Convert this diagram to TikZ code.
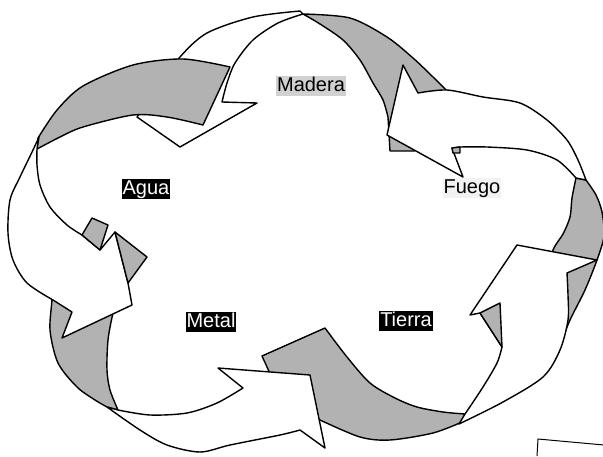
\documentclass[tikz,border=0pt]{standalone}
\usepackage{fontspec}
\setmainfont{Liberation Sans}
\usepackage{tikz}
\newcommand{\elemfont}{\fontsize{20}{24}\selectfont}

\begin{document}
\begin{tikzpicture}[
  x=1pt, y=-1pt,
  back/.style={draw, fill=black!30, line width=1.4pt, line join=round},
  front/.style={draw, fill=white, line width=1.4pt, line join=round},
  tag/.style={font=\elemfont, inner xsep=1pt, inner ysep=0.5pt, text height=15pt, text depth=3.5pt},
  darktag/.style={tag, fill=black, text=white}
]
\useasboundingbox (0,0) rectangle (603,456);
\clip (0,0) rectangle (603,456);

\path[back] plot[smooth] coordinates {(303,14) (350,18) (387,37) (413,58) (433,77) (448,92)}
  -- (452,118) -- (414,151) -- (390,151)
  -- plot[smooth] coordinates {(388,117) (383,100) (373,83) (360,60) (343,40) (320,24) (303,14)} -- cycle;
\path[back] plot[smooth] coordinates {(586,180) (596,195) (602,212) (604,236) (597,260) (585,290) (570,320) (560,345)}
  -- (540,340) -- plot[smooth] coordinates {(545,280) (553,250) (563,234) (570,217) (572,198) (576,178)} -- cycle;
\path[back] (262,356) -- (325,328)
  -- plot[smooth] coordinates {(325,328) (347,357) (370,383) (395,398) (417,407) (443,412) (465,414)}
  -- plot[smooth] coordinates {(462,422) (433,433) (390,440) (360,437) (320,420)}
  -- (295,400) -- (272,378) -- cycle;
\path[back] plot[smooth] coordinates {(48,284) (52,297) (50,330) (58,363) (77,387) (95,400) (107,407)}
  -- plot[smooth] coordinates {(118,410) (110,390) (107,370) (108,340) (113,313) (118,298)}
  -- (80,293) -- cycle;

\path[front] plot[smooth] coordinates {(222,102) (227,83) (235,63) (253,40) (278,23) (303,14)}
  -- plot[smooth] coordinates {(300,11) (253,17) (207,33) (180,57) (158,88) (137,117)}
  -- (180,147) -- (257,103) -- cycle;
\path[back] plot[smooth] coordinates {(230,67) (183,59) (133,65) (83,86) (57,110) (38,138)}
  -- plot[smooth] coordinates {(37,149) (60,137) (83,127) (133,115) (167,117) (203,125)} -- cycle;

\path[front] plot[smooth] coordinates {(39,137) (33,150) (20,177) (10,200) (8,233) (13,260) (27,283) (53,300)}
  -- (72,312) -- (62,338) -- (132,305) -- (128,283) -- (115,232) -- (100,250)
  -- plot[smooth] coordinates {(82,235) (67,225) (50,207) (40,185) (37,165) (37,149)} -- cycle;
\path[back] (82,235) -- (92,218) -- (108,225) -- (100,250) -- cycle;
\path[back] (115,232) -- (147,257) -- (128,283) -- cycle;

\path[front] plot[smooth] coordinates {(118,410) (150,415) (187,413) (217,403) (243,388)}
  -- (218,368) -- (310,375) -- (325,448)
  -- plot[smooth] coordinates {(300,430) (280,435) (230,445) (200,452) (167,445) (140,430) (107,407)} -- cycle;

\path[front] plot[smooth] coordinates {(465,414) (483,387) (497,363) (502,347)}
  -- (480,313) -- (470,315) -- (517,245) -- (597,260)
  -- plot[smooth] coordinates {(567,273) (568,295) (568,320) (560,350) (543,377) (503,402) (459,424)} -- cycle;
\path[back] (480,313) -- (500,303) -- (502,347) -- cycle;

\path[front] plot[smooth] coordinates {(418,93) (447,90) (483,97) (520,103) (547,120) (567,140) (578,160) (586,180)}
  -- plot[smooth] coordinates {(576,178) (557,160) (527,150) (487,147) (460,147)}
  -- (452,148) -- (463,177) -- (387,135) -- (403,65) -- cycle;
\path[back] (452,148) -- (460,147) -- (460,153) -- (453,153) -- cycle;

\draw[line width=1pt] (537,456) -- (538,439) -- (604,445);

\node[tag, fill=black!18] (madera) at (311,86) {Madera};
\node[tag, fill=black!5] (fuego) at (472,188) {Fuego};
\node[darktag] (agua) at (146,189) {Agua};
\node[darktag] (metal) at (211,322) {Metal};
\node[darktag] (tierra) at (406,321) {Tierra};

\end{tikzpicture}
\end{document}
